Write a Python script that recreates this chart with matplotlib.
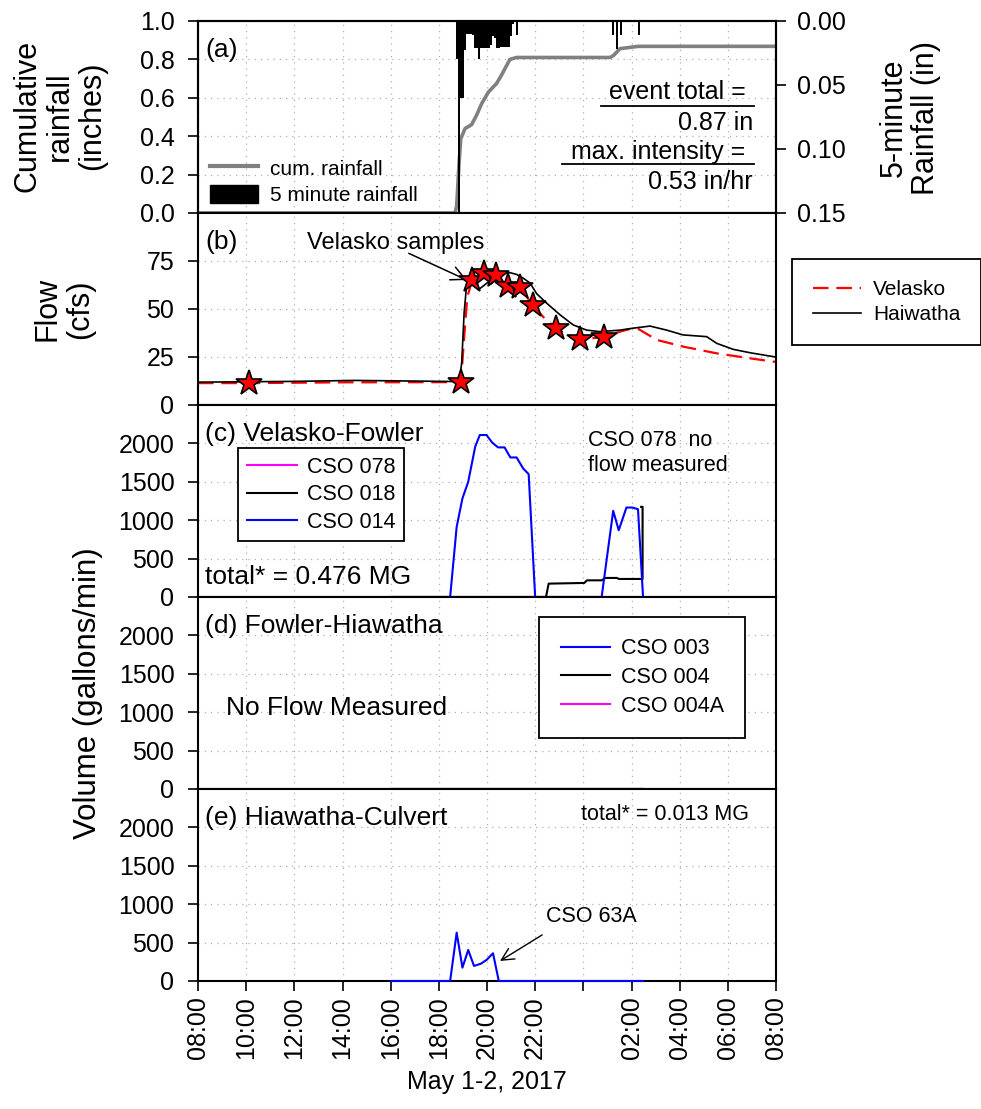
import matplotlib.pyplot as plt
from matplotlib.lines import Line2D
from matplotlib.patches import Patch

plt.rcParams['font.family'] = ['Liberation Sans', 'DejaVu Sans']

# x axis: hours since midnight May 1 (32 = 08:00 May 2)
hour_ticks = [8, 10, 12, 14, 16, 18, 20, 22, 24, 26, 28, 30, 32]
hour_labels = ['08:00', '10:00', '12:00', '14:00', '16:00', '18:00', '20:00',
               '22:00', '', '02:00', '04:00', '06:00', '08:00']

# (a) rainfall
cum_t = [8.0, 18.67, 18.74, 18.84, 18.91, 19.09, 19.36, 19.57, 19.78, 20.06, 20.40,
         20.61, 20.95, 21.23, 25.11, 25.25, 25.52, 26.28, 32.0]
cum_in = [0.0, 0.0, 0.035, 0.26, 0.386, 0.44, 0.46, 0.51, 0.57, 0.63, 0.675,
          0.72, 0.80, 0.81, 0.81, 0.82, 0.856, 0.868, 0.868]
rain5_t = [18.70, 18.78, 18.87, 18.95, 19.03, 19.12, 19.20, 19.28, 19.37, 19.45,
           19.53, 19.62, 19.70, 19.78, 19.87, 19.95, 20.03, 20.12, 20.20, 20.28,
           20.37, 20.45, 20.53, 20.62, 20.70, 20.78, 20.87, 20.95, 21.03, 21.20,
           25.18, 25.26, 25.35, 25.43, 25.51, 26.25]
rain5_in = [0.030, 0.150, 0.060, 0.060, 0.0225, 0.010, 0.010, 0.010, 0.011, 0.021,
            0.021, 0.030, 0.021, 0.021, 0.021, 0.021, 0.021, 0.019, 0.012, 0.013,
            0.021, 0.021, 0.020, 0.020, 0.020, 0.020, 0.020, 0.012, 0.002, 0.011,
            0.011, 0.0, 0.022, 0.0, 0.011, 0.011]

# (b) flow
vel_t = [8.0, 10.12, 14.0, 18.80, 18.92, 19.05, 19.18, 19.38, 19.87, 20.38, 20.86,
         21.37, 21.89, 22.40, 22.88, 23.40, 23.88, 24.40, 24.84, 25.11, 25.60,
         26.07, 26.30, 27.05, 28.15, 29.54, 30.93, 31.88, 32.0]
vel_q = [11.4, 11.4, 11.8, 11.9, 12.5, 35.0, 56.0, 65.2, 68.7, 67.8, 62.1,
         61.4, 52.1, 45.0, 39.9, 36.0, 34.6, 34.8, 35.5, 36.5, 38.5,
         40.0, 39.5, 33.9, 30.4, 26.9, 24.3, 22.6, 22.4]
hai_t = [8.0, 12.0, 14.5, 16.0, 18.85, 18.95, 19.05, 19.15, 19.29, 19.64, 19.99,
         20.54, 20.96, 21.23, 21.51, 21.79, 22.06, 22.48, 23.03, 23.58, 24.14,
         24.69, 25.52, 26.06, 26.77, 27.46, 28.14, 29.12, 29.54, 30.22, 30.93,
         31.88, 32.0]
hai_q = [11.9, 12.3, 12.8, 12.6, 12.2, 22.0, 48.0, 62.0, 65.0, 60.0, 63.4,
         68.9, 68.9, 68.0, 66.0, 63.5, 58.0, 53.0, 47.0, 41.7, 39.0,
         38.2, 39.0, 40.0, 41.1, 39.0, 36.5, 35.6, 32.1, 29.0, 27.2,
         25.2, 25.0]
samp_t = [10.12, 18.90, 19.38, 19.87, 20.38, 20.86, 21.37, 21.89, 22.88, 23.88, 24.84]
samp_q = [11.4, 11.9, 65.2, 68.7, 67.8, 62.1, 61.4, 52.1, 39.9, 34.6, 35.5]

# (c) Velasko-Fowler
c078_t = [16.0, 26.48]
c078_v = [0, 0]
c018_t = [16.0, 22.45, 22.56, 24.04, 24.15, 24.76, 24.92, 25.40, 25.47, 26.30,
          26.46, 26.46, 26.40]
c018_v = [0, 0, 174, 183, 217, 217, 248, 248, 235, 235, 235, 1174, 1174]
c014_t = [16.0, 18.47, 18.74, 18.98, 19.22, 19.51, 19.70, 19.98, 20.22, 20.46,
          20.73, 20.97, 21.23, 21.50, 21.73, 22.0, 24.76, 25.24, 25.47, 25.79,
          26.03, 26.27, 26.48]
c014_v = [0, 0, 913, 1283, 1500, 1957, 2109, 2109, 2009, 1948,
          1948, 1817, 1817, 1674, 1600, 0, 0, 1122, 870, 1165,
          1165, 1143, 0]

# (d) Fowler-Hiawatha
d_t = [16.0, 26.48]
c003_v = [0, 0]
c004_v = [0, 0]
c004a_v = [0, 0]

# (e) Hiawatha-Culvert
c63a_t = [16.0, 18.47, 18.74, 18.98, 19.22, 19.46, 19.75, 19.98, 20.25, 20.49, 26.48]
c63a_v = [0, 0, 630, 174, 404, 196, 226, 274, 361, 0, 0]

W, H = 981, 1109
fig = plt.figure(figsize=(W / 100, H / 100), dpi=100)


def px_axes(top, bottom):
    return fig.add_axes([198 / W, 1 - bottom / H, 578 / W, (bottom - top) / H])


def style(ax, last=False):
    ax.set_xlim(8, 32)
    ax.set_xticks(hour_ticks)
    ax.grid(True, color='#b0b0b0', linestyle=(0, (1, 4)), linewidth=0.9)
    ax.tick_params(direction='out', length=7, width=1.2, labelsize=18, pad=10)
    ax.tick_params(axis='x', pad=4)
    for s in ax.spines.values():
        s.set_linewidth(1.5)
    if last:
        ax.set_xticklabels(hour_labels, rotation=90)
    else:
        ax.tick_params(axis='x', labelbottom=False)


def box_legend(leg):
    leg.get_frame().set_linewidth(1.3)
    return leg


# ---- (a)
ax_a = px_axes(21, 213)
style(ax_a)
ax_a.plot(cum_t, cum_in, color='#808080', lw=2.6)
ax_a.set_ylim(0, 1.0)
ax_a.set_yticks([0, 0.2, 0.4, 0.6, 0.8, 1.0])
ax_a.set_yticklabels(['0.0', '0.2', '0.4', '0.6', '0.8', '1.0'])
ax_r = ax_a.twinx()
ax_r.bar(rain5_t, rain5_in, width=5 / 60, align='edge', color='black', linewidth=0)
ax_r.set_ylim(0.15, 0)
ax_r.set_yticks([0, 0.05, 0.10, 0.15])
ax_r.set_yticklabels(['0.00', '0.05', '0.10', '0.15'])
ax_r.tick_params(direction='out', length=7, width=1.2, labelsize=18, pad=8)
for s in ax_r.spines.values():
    s.set_linewidth(1.5)
ax_a.text(0.012, 0.849, '(a)', transform=ax_a.transAxes, fontsize=19, va='center')
ax_r.legend([Line2D([], [], color='#808080', lw=3), Patch(color='black')],
            ['cum. rainfall', '5 minute rainfall'], loc='lower left',
            bbox_to_anchor=(0.006, -0.003), frameon=False, fontsize=15,
            handlelength=2.3, handleheight=1.0, handletextpad=0.6,
            labelspacing=0.3, borderpad=0.4, borderaxespad=0)
ax_a.text(0.947, 0.63, 'event total =', transform=ax_a.transAxes, fontsize=18,
          ha='right', va='center')
ax_a.plot([0.698, 0.962], [0.557, 0.557], transform=ax_a.transAxes, color='black', lw=1.3)
ax_a.text(0.960, 0.469, '0.87 in', transform=ax_a.transAxes, fontsize=18,
          ha='right', va='center')
ax_a.text(0.947, 0.318, 'max. intensity =', transform=ax_a.transAxes, fontsize=18,
          ha='right', va='center')
ax_a.plot([0.629, 0.962], [0.255, 0.255], transform=ax_a.transAxes, color='black', lw=1.3)
ax_a.text(0.960, 0.161, '0.53 in/hr', transform=ax_a.transAxes, fontsize=18,
          ha='right', va='center')

# ---- (b)
ax_b = px_axes(213, 405)
style(ax_b)
ax_b.plot(vel_t, vel_q, color='red', lw=1.6, dashes=(7, 3.5), label='Velasko')
ax_b.plot(hai_t, hai_q, color='black', lw=1.2, label='Haiwatha')
ax_b.plot(samp_t, samp_q, linestyle='none', marker='*', ms=19, mfc='red',
          mec='black', mew=1.2, zorder=5)
ax_b.set_ylim(0, 100)
ax_b.set_yticks([0, 25, 50, 75])
ax_b.text(0.012, 0.849, '(b)', transform=ax_b.transAxes, fontsize=19, va='center')
ax_b.text(16.2, 84.2, 'Velasko samples', fontsize=17, ha='center', va='center')
ax_b.annotate('', xy=(19.16, 65.1), xytext=(16.75, 79),
              arrowprops=dict(arrowstyle='->', color='black', lw=1.1,
                              shrinkA=0, shrinkB=0, mutation_scale=25))
box_legend(ax_b.legend(loc='center', bbox_to_anchor=(1.029 + 0.325 / 2, 0.302 + 0.469 / 2),
                       fontsize=15, fancybox=False, framealpha=1, edgecolor='black',
                       handlelength=2.3, handletextpad=0.6, labelspacing=0.3, borderpad=1.0))

# ---- (c)
ax_c = px_axes(405, 597)
style(ax_c)
ax_c.plot(c078_t, c078_v, color='magenta', lw=1.5, label='CSO 078', zorder=3, clip_on=False)
ax_c.plot(c018_t, c018_v, color='black', lw=1.5, label='CSO 018', zorder=3, clip_on=False)
ax_c.plot(c014_t, c014_v, color='#0000ff', lw=1.5, label='CSO 014', zorder=3, clip_on=False)
ax_c.set_ylim(0, 2500)
ax_c.set_yticks([0, 500, 1000, 1500, 2000])
ax_c.text(0.012, 0.849, '(c) Velasko-Fowler', transform=ax_c.transAxes, fontsize=19, va='center')
ax_c.text(0.012, 0.104, 'total* = 0.476 MG', transform=ax_c.transAxes, fontsize=19, va='center')
ax_c.text(0.675, 0.75, 'CSO 078  no\nflow measured', transform=ax_c.transAxes,
          fontsize=15.5, va='center', ha='left')
box_legend(ax_c.legend(loc='upper left', bbox_to_anchor=(0.07, 0.776), fontsize=15.5,
                       fancybox=False, framealpha=1, edgecolor='black', borderaxespad=0,
                       handlelength=2.3, handletextpad=0.5, labelspacing=0.3, borderpad=0.4))

# ---- (d)
ax_d = px_axes(597, 789)
style(ax_d)
ax_d.plot(d_t, c004a_v, color='magenta', lw=1.5, zorder=3, clip_on=False)
ax_d.plot(d_t, c003_v, color='#0000ff', lw=1.5, zorder=3, clip_on=False)
ax_d.plot(d_t, c004_v, color='black', lw=1.5, zorder=3, clip_on=False)
ax_d.set_ylim(0, 2500)
ax_d.set_yticks([0, 500, 1000, 1500, 2000])
ax_d.text(0.012, 0.849, '(d) Fowler-Hiawatha', transform=ax_d.transAxes, fontsize=19, va='center')
ax_d.text(0.048, 0.42, 'No Flow Measured', transform=ax_d.transAxes, fontsize=19, va='center')
box_legend(ax_d.legend([Line2D([], [], color='#0000ff', lw=1.5),
                        Line2D([], [], color='black', lw=1.5),
                        Line2D([], [], color='magenta', lw=1.5)],
                       ['CSO 003', 'CSO 004', 'CSO 004A'],
                       loc='upper left', bbox_to_anchor=(0.59, 0.896), fontsize=15.5,
                       fancybox=False, framealpha=1, edgecolor='black', borderaxespad=0,
                       handlelength=2.3, handletextpad=0.5, labelspacing=0.35, borderpad=1.0))

# ---- (e)
ax_e = px_axes(789, 981)
style(ax_e, last=True)
ax_e.plot(c63a_t, c63a_v, color='#0000ff', lw=1.5, zorder=3, clip_on=False)
ax_e.set_ylim(0, 2500)
ax_e.set_yticks([0, 500, 1000, 1500, 2000])
ax_e.text(0.012, 0.849, '(e) Hiawatha-Culvert', transform=ax_e.transAxes, fontsize=19, va='center')
ax_e.text(0.954, 0.865, 'total* = 0.013 MG', transform=ax_e.transAxes, fontsize=15.5,
          ha='right', va='center')
ax_e.text(22.45, 843, 'CSO 63A', fontsize=15.5, ha='left', va='center')
ax_e.annotate('', xy=(20.54, 261), xytext=(22.29, 600),
              arrowprops=dict(arrowstyle='->', color='black', lw=1.0,
                              shrinkA=0, shrinkB=0, mutation_scale=22))
ax_e.set_xlabel('May 1-2, 2017', fontsize=18, labelpad=8)

# y labels
fig.text(60 / W, 1 - 116 / H, 'Cumulative\nrainfall\n(inches)', rotation=90,
         fontsize=22, ha='center', va='center', linespacing=1.1)
fig.text(64 / W, 1 - 309 / H, 'Flow\n(cfs)', rotation=90,
         fontsize=22, ha='center', va='center', linespacing=1.1)
fig.text(88 / W, 1 - 693 / H, 'Volume (gallons/min)', rotation=90,
         fontsize=22.5, ha='center', va='center')
fig.text(910 / W, 1 - 118 / H, '5-minute\nRainfall (in)', rotation=90,
         fontsize=22, ha='center', va='center', linespacing=1.1)

fig.savefig('out.png', dpi=100)
